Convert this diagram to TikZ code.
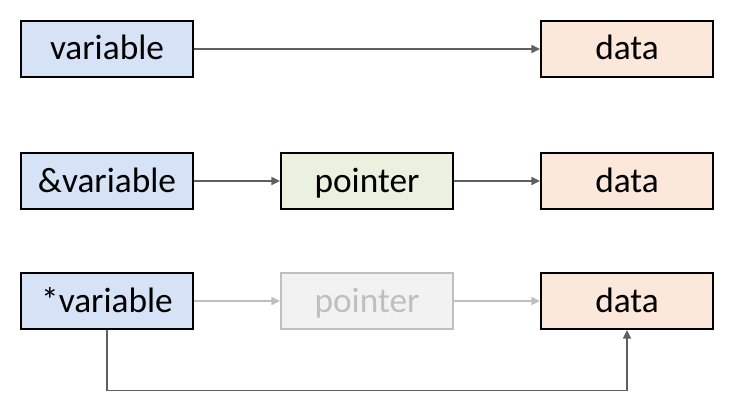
\documentclass[tikz,border=0pt]{standalone}
\usepackage{fontspec}
\setmainfont{Carlito}
\usetikzlibrary{positioning,arrows.meta}
\definecolor{varblue}{HTML}{D6E3F7}
\definecolor{ptrgreen}{HTML}{EBF1DF}
\definecolor{dataorange}{HTML}{FBE8DA}
\definecolor{fadegrey}{HTML}{BFBFBF}
\definecolor{fadefill}{HTML}{F2F2F2}
\definecolor{linegrey}{HTML}{5F5F5F}

\begin{document}
\begin{tikzpicture}[x=0.75pt,y=-0.75pt,>={Triangle[length=6.5pt,width=6pt]},node distance=46.5pt and 64.5pt,box/.style={draw,line width=1.5pt,minimum width=129pt,minimum height=42pt,inner sep=0pt,text height=20pt,text depth=3.5pt,font=\fontsize{26.5}{30}\selectfont},link/.style={->,line width=1.1pt,draw=linegrey}]

            \useasboundingbox (0,0) rectangle (738,410);

            \node[box, fill=varblue] (1) at (107,49) {variable};
            \node[box, fill=dataorange] (2) [right=259.5pt of 1] {data};
            \node[box, fill=varblue] (3) [below=55.5pt of 1] {\&variable};
            \node[box, fill=ptrgreen] (4) [right=of 3] {pointer};
            \node[box, fill=dataorange] (5) [right=of 4] {data};
            \node[box, fill=varblue] (6) [below=of 3] {*variable};
            \node[box, fill=fadefill, draw=fadegrey, text=fadegrey] (7) [right=of 6] {pointer};
            \node[box, fill=dataorange] (8) [right=of 7] {data};

            \draw[link] (1) to (2);
            \draw[link] (3) to (4);
            \draw[link] (4) to (5);
            \draw[link] (6) [draw=fadegrey] to (7);
            \draw[link] (7) [draw=fadegrey] to (8);
            \draw[link] (6) -- ++(0,89.5) -| (8);

            ;
        \end{tikzpicture}
\end{document}
